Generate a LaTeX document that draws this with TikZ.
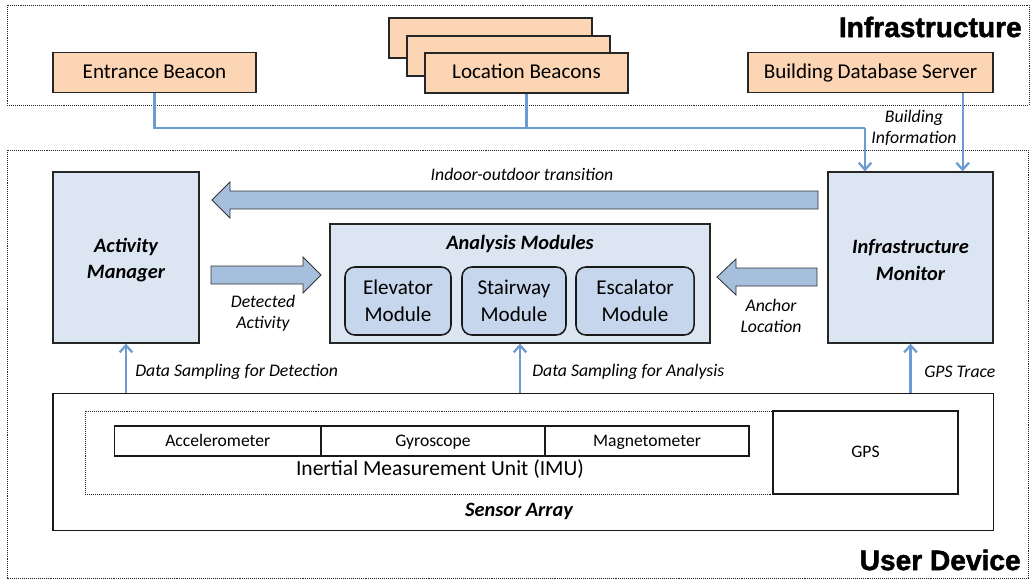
\documentclass[tikz,border=0pt]{standalone}
\usepackage{fontspec}
\setmainfont{Carlito}
\newfontfamily\titlefont{Liberation Sans}[BoldFeatures={FakeBold=1.6}]
\usepackage{tikz}
\usetikzlibrary{arrows.meta, positioning, calc}
\definecolor{beaconfill}{HTML}{FCD5B4}
\definecolor{boxfill}{HTML}{DCE6F2}
\definecolor{modfill}{HTML}{C6D6EC}
\definecolor{bigarrow}{HTML}{A5BFDD}
\definecolor{flowblue}{HTML}{6C9BD2}

\begin{document}
\begin{tikzpicture}[x=0.025cm, y=-0.025cm,
  frame/.style={draw=black!85, line width=0.6pt, dash pattern=on 0.7pt off 0.7pt},
  beacon/.style={draw=black!85, line width=0.9pt, fill=beaconfill, minimum width=5.075cm,
    minimum height=1cm, inner sep=0pt, text height=0.84em, text depth=0pt,
    font=\fontsize{15}{18}\selectfont},
  unit/.style={draw=black!85, line width=0.9pt, fill=boxfill, inner sep=0pt,
    align=center, font=\fontsize{14.5}{19}\selectfont\bfseries\itshape},
  module/.style={draw=black!90, line width=1.1pt, fill=modfill, rounded corners=7pt,
    minimum height=1.7cm, inner sep=0pt, align=center, font=\fontsize{15}{19}\selectfont},
  sensor/.style={draw=black!90, line width=0.8pt, minimum height=0.75cm, inner sep=0pt,
    text height=0.72em, text depth=0pt, font=\fontsize{12.5}{15}\selectfont},
  flow/.style={flowblue, line width=1.6pt, -{Straight Barb[length=5pt,width=9pt]}},
  wire/.style={flowblue, line width=1.6pt},
  lbl/.style={font=\fontsize{12.6}{15}\selectfont\itshape, align=center, inner sep=0pt},
  blockarrow/.style={fill=bigarrow, draw=black!80, line width=0.6pt},
  title/.style={font=\titlefont\fontsize{20}{24}\selectfont\bfseries, inner sep=0pt}]
\useasboundingbox (0,0) rectangle (1031,581);

% frames
\draw[frame] (7,5) rectangle (1029,105);
\draw[frame] (7,150) rectangle (1028,578);
\node[title, anchor=east] (infratitle) at (1022,27) {Infrastructure};
\node[title, anchor=east] (usertitle) at (1021,560) {User Device};

% infrastructure side
\node[beacon] (entrance) at (154.5,72.5) {Entrance Beacon};
\node[beacon] (locback2) at (490.5,38) {};
\node[beacon] (locback1) at (508.5,56) {};
\node[beacon] (locbeacons) at (526.5,73) {Location Beacons};
\node[beacon, minimum width=6.125cm] (dbserver) at (870.5,72.5) {Building Database Server};

% user device units
\node[unit, minimum width=3.65cm, minimum height=4.275cm] (actmgr) at (126,257.5) {};
\node[unit, draw=none, fill=none] (actmgrlabel) at (126,260) {Activity\\Manager};
\node[unit, minimum width=4.125cm, minimum height=4.275cm] (infmon) at (910.5,257.5) {};
\node[unit, draw=none, fill=none] (infmonlabel) at (910.5,260) {Infrastructure\\Monitor};
\node[unit, minimum width=9.5cm, minimum height=2.975cm] (analysis) at (520,283.5) {};
\node[font=\fontsize{14.5}{18}\selectfont\bfseries\itshape] (analysistitle) at (520,244) {Analysis Modules};
\node[module, minimum width=2.65cm] (elevator) at (398,301) {Elevator\\Module};
\node[module, minimum width=2.6cm] (stairway) at (514,301) {Stairway\\Module};
\node[module, minimum width=2.95cm] (escalator) at (635,301) {Escalator\\Module};

% sensor array
\node[draw=black!90, line width=0.9pt, minimum width=23.5cm, minimum height=3.425cm] (sensors) at (523,462) {};
\node[font=\fontsize{14.5}{17}\selectfont\bfseries\itshape] (sensortitle) at (519,511) {Sensor Array};
\node[frame, minimum width=17.19cm, minimum height=2.075cm] (imu) at (429.25,452.5) {};
\node[sensor, minimum width=5.16cm] (accel) at (217.75,441) {Accelerometer};
\node[sensor, minimum width=5.6cm] (gyro) at (433,441) {Gyroscope};
\node[sensor, minimum width=5.1cm] (magneto) at (647,441) {Magnetometer};
\node[font=\fontsize{15.3}{18}\selectfont] (imulabel) at (440,469) {Inertial Measurement Unit (IMU)};
\node[sensor, minimum width=4.625cm, minimum height=2.075cm, fill=white] (gps) at (865.5,452.5) {GPS};

% connectors from infrastructure
\coordinate (bus) at (865,128);
\draw[wire] (entrance.south) |- (bus);
\draw[wire] (locbeacons.south) -- (locbeacons.south |- bus);
\draw[flow] (bus) -- (bus |- infmon.north);
\coordinate (dbdrop) at ($(dbserver.south east)+(-31,0)$);
\draw[flow] (dbdrop) -- (dbdrop |- infmon.north);
\node[lbl] (buildinfo) at (914,128) {Building\\Information};

% block arrows (tail / head base / tip / centre)
\foreach \a/\h/\b/\y in {818/230/212/200, 211/303/321/275, 817/736/717/277}
{
  \draw[blockarrow] (\a,\y-9) -- (\h,\y-9) -- (\h,\y-18) -- (\b,\y)
    -- (\h,\y+18) -- (\h,\y+9) -- (\a,\y+9) -- cycle;
}
\node[lbl] (indoorlbl) at (522,174) {Indoor-outdoor transition};
\node[lbl] (detectlbl) at (263,313) {Detected\\Activity};
\node[lbl] (anchorlbl) at (771,316) {Anchor\\Location};

% data sampling
\draw[flow] (actmgr.south |- sensors.north) -- (actmgr.south);
\draw[flow] (analysis.south |- sensors.north) -- (analysis.south);
\draw[flow] (infmon.south |- sensors.north) -- (infmon.south);
\node[lbl, anchor=west] (samp1) at (135,372) {Data Sampling for Detection};
\node[lbl, anchor=west] (samp2) at (532,372) {Data Sampling for Analysis};
\node[lbl, anchor=west] (samp3) at (924,372) {GPS Trace};
\end{tikzpicture}
\end{document}
